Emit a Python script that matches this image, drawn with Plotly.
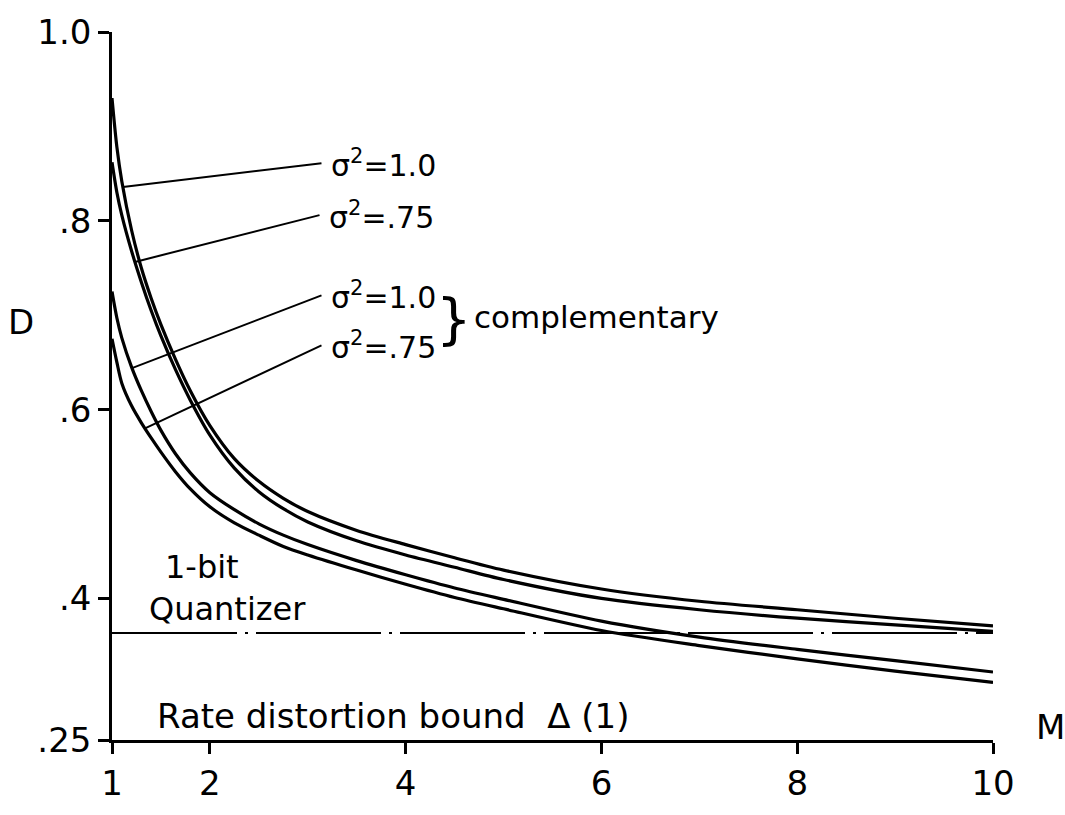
import numpy as np
import plotly.graph_objects as go

# ---- data ----
M = [1, 1.05, 1.1, 1.2, 1.3, 1.4, 1.5, 1.65, 1.8, 2, 2.25, 2.5, 2.75, 3, 3.5, 4, 4.5, 5, 6, 7, 8, 9, 10]
D_var1 = [0.930, 0.878, 0.842, 0.790, 0.750, 0.718, 0.690, 0.653, 0.620, 0.583, 0.548, 0.524, 0.506,
          0.492, 0.472, 0.457, 0.443, 0.430, 0.410, 0.397, 0.388, 0.379, 0.371]
D_var075 = [0.862, 0.830, 0.806, 0.768, 0.735, 0.705, 0.678, 0.642, 0.610, 0.573, 0.538, 0.513, 0.495,
            0.481, 0.461, 0.446, 0.433, 0.420, 0.400, 0.388, 0.379, 0.372, 0.365]
D_comp1 = [0.725, 0.697, 0.676, 0.645, 0.620, 0.598, 0.578, 0.553, 0.533, 0.512, 0.494, 0.479, 0.467,
           0.457, 0.440, 0.425, 0.411, 0.399, 0.376, 0.359, 0.346, 0.334, 0.322]
D_comp075 = [0.675, 0.650, 0.628, 0.604, 0.586, 0.570, 0.555, 0.534, 0.516, 0.497, 0.480, 0.467, 0.455,
             0.446, 0.430, 0.415, 0.401, 0.389, 0.366, 0.350, 0.336, 0.323, 0.311]

QUANTIZER_D = 0.3634
RATE_BOUND = 0.25

x_ticks = [1, 2, 4, 6, 8, 10]
x_ticktext = ["1", "2", "4", "6", "8", "10"]
y_ticks = [0.25, 0.4, 0.6, 0.8, 1.0]
y_ticktext = [".25", ".4", ".6", ".8", "1.0"]

curves = [D_var1, D_var075, D_comp1, D_comp075]
labels = ["σ<sup>2</sup>=1.0", "σ<sup>2</sup>=.75", "σ<sup>2</sup>=1.0", "σ<sup>2</sup>=.75"]
leader_M = [1.112, 1.235, 1.204, 1.337]      # where each leader touches its curve
label_pos = [(3.22, 0.861), (3.20, 0.806), (3.22, 0.721), (3.22, 0.668)]

FONT = "DejaVu Sans"

fig = go.Figure()

for ys in curves:
    fig.add_trace(go.Scatter(x=M, y=ys, mode="lines",
                             line=dict(color="black", width=3.2, shape="spline", smoothing=0.8),
                             showlegend=False, hoverinfo="skip"))

# 1-bit quantizer line
fig.add_trace(go.Scatter(x=[1, 10], y=[QUANTIZER_D, QUANTIZER_D], mode="lines",
                         line=dict(color="black", width=2, dash="125px,8px,3px,8px"),
                         showlegend=False, hoverinfo="skip"))

# leader lines
for ys, lm, (lx, ly) in zip(curves, leader_M, label_pos):
    y0 = float(np.interp(lm, M, ys))
    fig.add_trace(go.Scatter(x=[lm, lx - 0.08], y=[y0, ly], mode="lines",
                             line=dict(color="black", width=2),
                             showlegend=False, hoverinfo="skip"))

annotations = []
for txt, (lx, ly) in zip(labels, label_pos):
    annotations.append(dict(x=lx, y=ly, xref="x", yref="y", text=txt, showarrow=False,
                            xanchor="left", yanchor="middle",
                            font=dict(family=FONT, size=30, color="black")))

annotations += [
    dict(x=4.49, y=0.696, xref="x", yref="y", text="}", showarrow=False,
         xanchor="center", yanchor="middle", font=dict(family=FONT, size=56, color="black")),
    dict(x=4.68, y=0.698, xref="x", yref="y", text="complementary", showarrow=False,
         xanchor="left", yanchor="middle", font=dict(family=FONT, size=31, color="black")),
    dict(x=1.52, y=0.433, xref="x", yref="y", text="1-bit", showarrow=False,
         xanchor="left", yanchor="middle", font=dict(family=FONT, size=32, color="black")),
    dict(x=1.36, y=0.389, xref="x", yref="y", text="Quantizer", showarrow=False,
         xanchor="left", yanchor="middle", font=dict(family=FONT, size=32, color="black")),
    dict(x=1.44, y=0.2755, xref="x", yref="y", text="Rate distortion bound  Δ (1)", showarrow=False,
         xanchor="left", yanchor="middle", font=dict(family=FONT, size=34, color="black")),
    dict(x=-0.103, y=0.590, xref="paper", yref="paper", text="D", showarrow=False,
         xanchor="center", yanchor="middle", font=dict(family=FONT, size=34, color="black")),
    dict(x=1.065, y=0.019, xref="paper", yref="paper", text="M", showarrow=False,
         xanchor="center", yanchor="middle", font=dict(family=FONT, size=34, color="black")),
]

fig.update_layout(
    width=1065, height=815,
    margin=dict(l=112, r=72, t=27, b=53),
    paper_bgcolor="white", plot_bgcolor="white",
    annotations=annotations,
    showlegend=False,
    xaxis=dict(range=[1, 10], tickvals=x_ticks, ticktext=x_ticktext,
               showgrid=False, zeroline=False, showline=True, linecolor="black", linewidth=2.5,
               ticks="outside", ticklen=11, tickwidth=2.5, tickcolor="black",
               tickfont=dict(family=FONT, size=34, color="black")),
    yaxis=dict(range=[RATE_BOUND, 1.0], tickvals=y_ticks, ticktext=y_ticktext,
               showgrid=False, zeroline=False, showline=True, linecolor="black", linewidth=2.5,
               ticks="outside", ticklen=11, tickwidth=2.5, tickcolor="black",
               tickfont=dict(family=FONT, size=34, color="black")),
)

fig.write_html("out.html")
